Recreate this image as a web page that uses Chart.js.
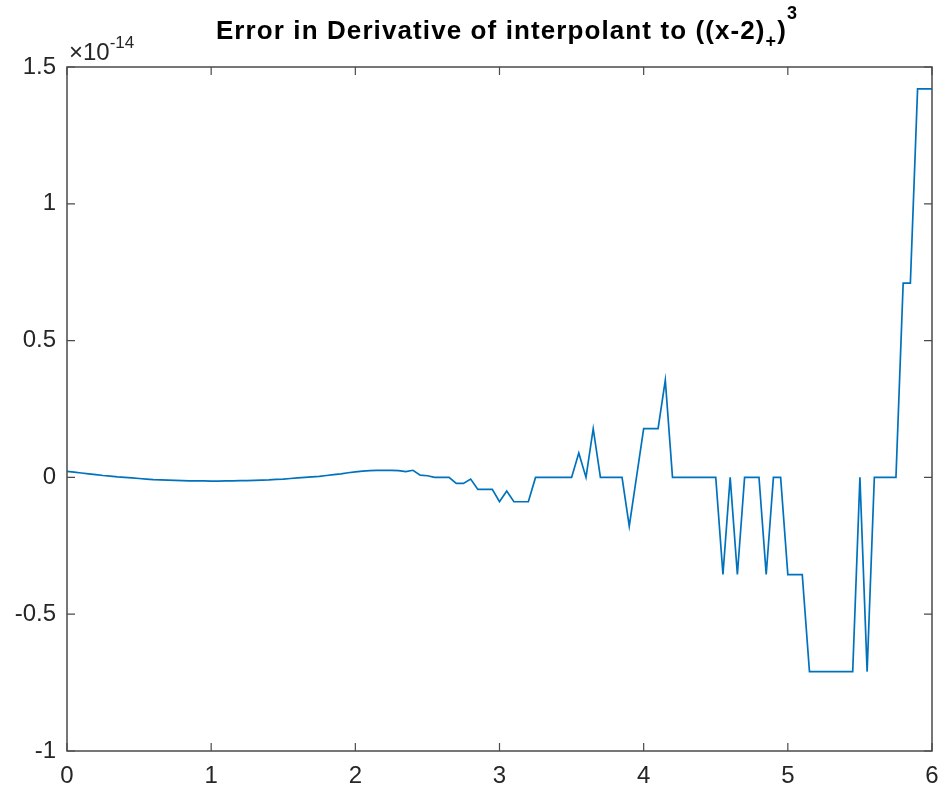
<!DOCTYPE html>
<html>
<head>
<meta charset="utf-8">
<script src="https://cdn.jsdelivr.net/npm/chart.js@4"></script>
<style>
  html, body { margin: 0; padding: 0; background: #fff; }
</style>
</head>
<body>
<canvas id="errChart" width="945" height="791"></canvas>
<script>
// sample points (x) and derivative error, in units of 1e-14
const xVals = [
  0.00, 0.05, 0.10, 0.15, 0.20, 0.25, 0.30, 0.35, 0.40, 0.45,
  0.50, 0.55, 0.60, 0.65, 0.70, 0.75, 0.80, 0.85, 0.90, 0.95,
  1.00, 1.05, 1.10, 1.15, 1.20, 1.25, 1.30, 1.35, 1.40, 1.45,
  1.50, 1.55, 1.60, 1.65, 1.70, 1.75, 1.80, 1.85, 1.90, 1.95,
  2.00, 2.05, 2.10, 2.15, 2.20, 2.25, 2.30, 2.35, 2.40, 2.45,
  2.50, 2.55, 2.60, 2.65, 2.70, 2.75, 2.80, 2.85, 2.90, 2.95,
  3.00, 3.05, 3.10, 3.15, 3.20, 3.25, 3.30, 3.35, 3.40, 3.45,
  3.50, 3.55, 3.60, 3.65, 3.70, 3.75, 3.80, 3.85, 3.90, 3.95,
  4.00, 4.05, 4.10, 4.15, 4.20, 4.25, 4.30, 4.35, 4.40, 4.45,
  4.50, 4.55, 4.60, 4.65, 4.70, 4.75, 4.80, 4.85, 4.90, 4.95,
  5.00, 5.05, 5.10, 5.15, 5.20, 5.25, 5.30, 5.35, 5.40, 5.45,
  5.50, 5.55, 5.60, 5.65, 5.70, 5.75, 5.80, 5.85, 5.90, 5.95,
  6.00
];
const errVals = [
  0.022, 0.019, 0.016, 0.013, 0.010, 0.007, 0.005, 0.002, 0.000, -0.002,
  -0.004, -0.006, -0.008, -0.009, -0.010, -0.011, -0.012, -0.0125, -0.013, -0.013,
  -0.0135, -0.0135, -0.013, -0.013, -0.012, -0.0115, -0.011, -0.010, -0.009, -0.007,
  -0.006, -0.004, -0.002, 0.000, 0.002, 0.004, 0.007, 0.010, 0.013, 0.017,
  0.020, 0.023, 0.025, 0.026, 0.026, 0.026, 0.025, 0.021, 0.026, 0.008,
  0.006, 0.000, 0.000, 0.000, -0.022, -0.022, -0.006, -0.044, -0.044, -0.044,
  -0.089, -0.050, -0.089, -0.089, -0.089, 0, 0, 0, 0, 0,
  0, 0.089, 0, 0.178, 0, 0, 0, 0, -0.178, 0,
  0.178, 0.178, 0.178, 0.355, 0, 0, 0, 0, 0, 0,
  0, -0.355, 0, -0.355, 0, 0, 0, -0.355, 0, 0,
  -0.355, -0.355, -0.355, -0.71, -0.71, -0.71, -0.71, -0.71, -0.71, -0.71,
  0, -0.71, 0, 0, 0, 0, 0.71, 0.71, 1.42, 1.42,
  1.42
];
const xTicks = [0, 1, 2, 3, 4, 5, 6];
const yTicks = [-1, -0.5, 0, 0.5, 1, 1.5];
const yExponent = '-14';

const axisColor = '#4a4a4a';
const textColor = '#262626';
const fontFam = "'Liberation Sans', Arial, Helvetica, sans-serif";

// MATLAB-ish axes box, inward ticks, title with sub/superscript, exponent label
const matlabAxes = {
  id: 'matlabAxes',
  afterDraw(chart) {
    const { ctx, chartArea: a } = chart;
    const xs = chart.scales.x, ys = chart.scales.y;
    ctx.save();

    ctx.strokeStyle = axisColor;
    ctx.lineWidth = 1.5;
    ctx.strokeRect(a.left, a.top, a.right - a.left, a.bottom - a.top);

    const tl = 8;
    ctx.lineWidth = 1.2;
    ctx.beginPath();
    xTicks.forEach(v => {
      const px = xs.getPixelForValue(v);
      ctx.moveTo(px, a.bottom); ctx.lineTo(px, a.bottom - tl);
      ctx.moveTo(px, a.top); ctx.lineTo(px, a.top + tl);
    });
    yTicks.forEach(v => {
      const py = ys.getPixelForValue(v);
      ctx.moveTo(a.left, py); ctx.lineTo(a.left + tl, py);
      ctx.moveTo(a.right, py); ctx.lineTo(a.right - tl, py);
    });
    ctx.stroke();

    // exponent label above y axis
    ctx.fillStyle = textColor;
    ctx.textBaseline = 'alphabetic';
    ctx.textAlign = 'left';
    ctx.font = '24px ' + fontFam;
    const base = '\u00d710';
    ctx.fillText(base, a.left + 2, 60);
    const bw = ctx.measureText(base).width;
    ctx.font = '17px ' + fontFam;
    ctx.fillText(yExponent, a.left + 2 + bw, 48);

    // title: ((x-2)_+)^3
    const mainTxt = 'Error in Derivative of interpolant to ((x-2)';
    const bigFont = 'bold 26px ' + fontFam;
    const smallFont = 'bold 18px ' + fontFam;
    ctx.letterSpacing = '1.1px';
    ctx.font = bigFont;
    const w1 = ctx.measureText(mainTxt).width;
    const w3 = ctx.measureText(')').width;
    ctx.font = smallFont;
    const w2 = ctx.measureText('+').width;
    const w4 = ctx.measureText('3').width;
    const total = w1 + w2 + w3 + w4;
    let tx = 507 - total / 2;
    const by = 39;
    ctx.fillStyle = '#000';
    ctx.font = bigFont;
    ctx.fillText(mainTxt, tx, by); tx += w1;
    ctx.font = smallFont;
    ctx.fillText('+', tx, by + 8); tx += w2;
    ctx.font = bigFont;
    ctx.fillText(')', tx, by); tx += w3;
    ctx.font = smallFont;
    ctx.fillText('3', tx, by - 20);

    ctx.restore();
  }
};

new Chart(document.getElementById('errChart'), {
  type: 'line',
  data: {
    datasets: [{
      data: xVals.map((x, i) => ({ x: x, y: errVals[i] })),
      borderColor: '#0072BD',
      borderWidth: 1.7,
      pointRadius: 0,
      tension: 0,
      fill: false
    }]
  },
  options: {
    responsive: false,
    animation: false,
    devicePixelRatio: 1,
    layout: { padding: { top: 67, right: 13, left: 0, bottom: 0 } },
    plugins: {
      legend: { display: false },
      tooltip: { enabled: false }
    },
    scales: {
      x: {
        type: 'linear',
        min: 0, max: 6,
        afterFit: s => { s.height = 40; s.paddingLeft = 0; s.paddingRight = 0; },
        afterBuildTicks: s => { s.ticks = xTicks.map(v => ({ value: v })); },
        grid: { display: false, drawTicks: false },
        border: { display: false },
        ticks: {
          color: textColor,
          padding: 11,
          maxRotation: 0,
          font: { size: 24, family: fontFam }
        }
      },
      y: {
        min: -1, max: 1.5,
        afterFit: s => { s.width = 67; s.paddingTop = 0; s.paddingBottom = 0; },
        afterBuildTicks: s => { s.ticks = yTicks.map(v => ({ value: v })); },
        grid: { display: false, drawTicks: false },
        border: { display: false },
        ticks: {
          color: textColor,
          padding: 11,
          callback: v => String(v),
          font: { size: 24, family: fontFam }
        }
      }
    }
  },
  plugins: [matlabAxes]
});
</script>
</body>
</html>
